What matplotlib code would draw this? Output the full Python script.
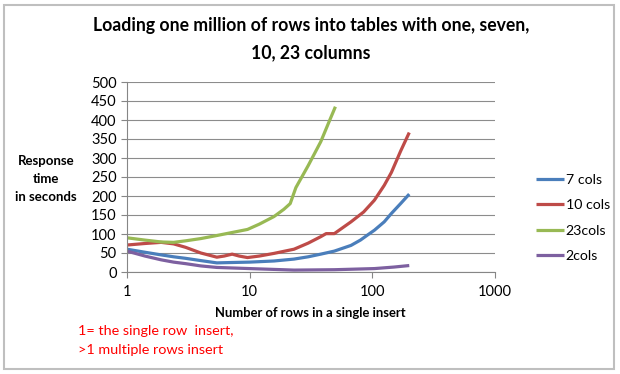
import matplotlib
matplotlib.use("Agg")
import matplotlib.pyplot as plt
from matplotlib.patches import Rectangle

# data (x = rows per insert, y = seconds)
x_7 = [1, 1.4, 1.9, 2.4, 3, 4, 5.4, 7.2, 10, 15.8, 23, 30, 38, 49, 67, 80, 92, 104, 125, 143, 170, 200]
y_7 = [60, 52, 45, 40, 36, 30, 24, 25, 26, 29, 34, 40, 47, 55, 70, 84, 98, 110, 132, 154, 180, 205]

x_10 = [1, 1.4, 1.9, 2.4, 3, 4, 5.4, 6.2, 7.2, 8.2, 9.6, 12, 15.8, 23, 30, 38, 42, 49, 67, 85, 104, 125, 143, 170, 200]
y_10 = [71, 75, 78, 74, 65, 50, 39, 42, 47, 42, 38, 42, 49, 60, 76, 93, 101, 101, 132, 158, 189, 228, 262, 318, 367]

x_23 = [1, 1.4, 1.9, 2.4, 3, 4, 5.4, 7.2, 9.6, 12, 15.8, 19, 21.4, 23.8, 30, 38, 45, 50]
y_23 = [90, 84, 79, 78, 82, 88, 96, 104, 112, 126, 146, 165, 180, 222, 280, 343, 400, 435]

x_2 = [1, 1.4, 1.9, 2.4, 3, 4, 5.4, 10, 23, 49, 104, 150, 200]
y_2 = [55, 42, 32, 26, 22, 16, 12, 9, 5, 6, 9, 13, 17]

series = [
    ("7 cols", x_7, y_7, "#4A7EBB"),
    ("10 cols", x_10, y_10, "#BE4B48"),
    ("23cols", x_23, y_23, "#98B954"),
    ("2cols", x_2, y_2, "#7D60A0"),
]

plt.rcParams["font.family"] = ["Lato", "DejaVu Sans"]

fig = plt.figure(figsize=(6.2, 3.74), dpi=100)
fig.patches.append(Rectangle((4 / 620, 5 / 374), 610 / 620, 364 / 374,
                             transform=fig.transFigure, fill=False,
                             edgecolor="#BFBFBF", lw=1.5))
ax = fig.add_axes([127 / 620, 102 / 374, 368 / 620, 190 / 374])

for label, xs, ys, col in series:
    ax.plot(xs, ys, "-", color=col, lw=2.3, label=label,
            solid_joinstyle="round", solid_capstyle="butt")

ax.set_xscale("log")
ax.set_xlim(1, 1000)
ax.set_ylim(0, 500)
ax.set_xticks([1, 10, 100, 1000])
ax.set_xticklabels(["1", "10", "100", "1000"])
ax.minorticks_off()
ax.set_yticks(range(0, 501, 50))
ax.yaxis.grid(True, color="#8C8C8C", lw=0.8)
ax.set_axisbelow(True)
for s in ["top", "right"]:
    ax.spines[s].set_visible(False)
for s in ["left", "bottom"]:
    ax.spines[s].set_color("#868686")
ax.tick_params(axis="both", colors="#868686", labelcolor="black",
               labelsize=10.5, length=4)
ax.tick_params(axis="x", pad=5)

fig.text(311 / 620, 1 - 26 / 374, "Loading one million of rows into tables with one, seven,",
         ha="center", va="center", fontsize=12.7, fontweight="bold")
fig.text(311 / 620, 1 - 53 / 374, "10, 23 columns",
         ha="center", va="center", fontsize=12.7, fontweight="bold")

fig.text(46 / 620, 1 - 179 / 374, "Response\ntime\nin seconds", ha="center",
         va="center", fontsize=9.5, fontweight="bold", linespacing=1.6)
fig.text(310 / 620, 1 - 313 / 374, "Number of rows in a single insert",
         ha="center", va="center", fontsize=9.4, fontweight="bold")
fig.text(78 / 620, 1 - 331 / 374, "1= the single row  insert,", ha="left",
         va="center", fontsize=10.4, color="#FF0000")
fig.text(78 / 620, 1 - 350 / 374, ">1 multiple rows insert", ha="left",
         va="center", fontsize=10.4, color="#FF0000")

fig.legend(loc="upper left", bbox_to_anchor=(523 / 620, 1 - 161 / 374),
           frameon=False, fontsize=10.2, handlelength=2.0, handletextpad=0.1,
           labelspacing=0.95)

fig.savefig("out.png", dpi=100)
